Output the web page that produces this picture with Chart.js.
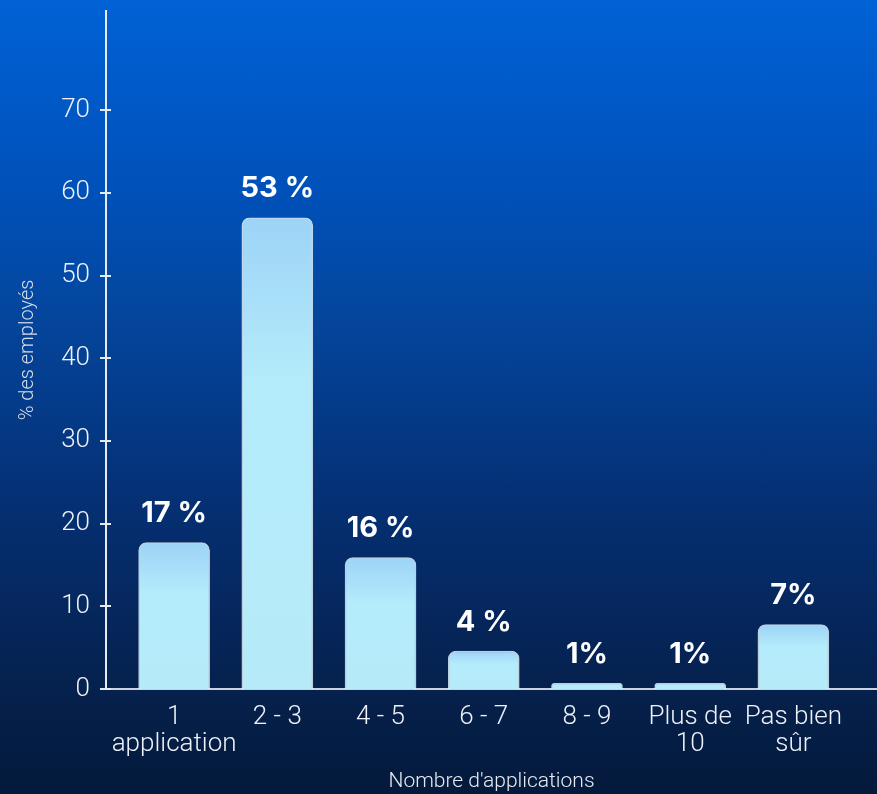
<!DOCTYPE html>
<html lang="fr">
<head>
<meta charset="utf-8">
<title>Nombre d'applications</title>
<script src="https://cdn.jsdelivr.net/npm/chart.js@4/dist/chart.umd.min.js"></script>
<style>
  html, body { margin: 0; padding: 0; }
  body {
    width: 877px; height: 794px; overflow: hidden;
    background: linear-gradient(180deg, #0062d6 0%, #0050b8 25%, #0447a0 38%, #053074 63%, #051f48 90%, #041a3c 100%);
  }
  canvas { display: block; }
</style>
</head>
<body>
<canvas id="chart" width="877" height="794"></canvas>
<script>
const CATEGORIES = [['1', 'application'], ['2 - 3'], ['4 - 5'], ['6 - 7'], ['8 - 9'], ['Plus de', '10'], ['Pas bien', 'sûr']];
const VALUES = [17.7, 57, 15.9, 4.6, 0.7, 0.7, 7.8];
const BAR_LABELS = ['17 %', '53 %', '16 %', '4 %', '1%', '1%', '7%'];
const Y_TICKS_MAX = 70;

const FONT = 'Roboto, Inter, "Open Sans", sans-serif';
const BOLD_FONT = 'Inter, Roboto, sans-serif';

function barFill(context) {
  const chart = context.chart;
  const area = chart.chartArea;
  if (!area) return '#b4ecfa';
  const yScale = chart.scales.y;
  const top = yScale.getPixelForValue(context.raw ? context.raw.y : 0);
  const base = yScale.getPixelForValue(0);
  if (!isFinite(top) || base - top < 1) return '#b4ecfa';
  const g = chart.ctx.createLinearGradient(0, top, 0, base);
  g.addColorStop(0, '#9dd3f6');
  g.addColorStop(0.35, '#b4ecfb');
  g.addColorStop(1, '#b6eaf9');
  return g;
}

// short tick marks crossing the y axis
const yTickMarks = {
  id: 'yTickMarks',
  afterDraw(chart) {
    const y = chart.scales.y;
    const ctx = chart.ctx;
    const x0 = chart.chartArea.left;
    ctx.save();
    ctx.strokeStyle = '#e6ebf3';
    ctx.lineWidth = 2;
    y.ticks.forEach(t => {
      const py = Math.round(y.getPixelForValue(t.value));
      ctx.beginPath();
      ctx.moveTo(x0 - 6, py);
      ctx.lineTo(x0 + 5, py);
      ctx.stroke();
    });
    ctx.restore();
  }
};

// percentage labels above bars
const barValueLabels = {
  id: 'barValueLabels',
  afterDatasetsDraw(chart) {
    const ctx = chart.ctx;
    const meta = chart.getDatasetMeta(0);
    ctx.save();
    ctx.fillStyle = '#ffffff';
    ctx.font = '700 29px ' + BOLD_FONT;
    ctx.textAlign = 'center';
    ctx.textBaseline = 'middle';
    meta.data.forEach((bar, i) => {
      ctx.fillText(BAR_LABELS[i], bar.x, bar.y - 29);
    });
    ctx.restore();
  }
};

new Chart(document.getElementById('chart'), {
  type: 'bar',
  data: {
    datasets: [{
      data: VALUES.map((v, i) => ({ x: i, y: v })),
      backgroundColor: barFill,
      borderColor: 'rgba(235, 250, 255, 0.8)',
      borderWidth: 1.5,
      borderSkipped: 'bottom',
      borderRadius: 8,
      barThickness: 71
    }]
  },
  options: {
    responsive: false,
    animation: false,
    layout: { padding: { top: 11, right: 0, left: 0, bottom: 0 } },
    plugins: {
      legend: { display: false },
      tooltip: { enabled: false }
    },
    scales: {
      x: {
        type: 'linear',
        offset: false,
        min: -0.66,
        max: 6.81,
        afterBuildTicks: axis => { axis.ticks = CATEGORIES.map((_, i) => ({ value: i })); },
        afterFit: axis => { axis.height = 105; axis.paddingLeft = 0; axis.paddingRight = 0; },
        grid: { display: false, drawTicks: false, tickLength: 0 },
        border: { display: true, color: 'rgba(225, 230, 240, 0.9)', width: 2 },
        ticks: {
          autoSkip: false,
          maxRotation: 0,
          padding: 15,
          color: '#eef2f8',
          font: { family: FONT, size: 26, weight: '300', lineHeight: 1.05 },
          callback: v => CATEGORIES[v]
        },
        title: {
          display: true,
          text: "Nombre d'applications",
          color: '#e6ebf3',
          font: { family: FONT, size: 21, weight: '300' },
          padding: { top: 0, bottom: 0 }
        }
      },
      y: {
        min: 0,
        max: 82,
        afterBuildTicks: axis => { axis.ticks = axis.ticks.filter(t => t.value <= Y_TICKS_MAX); },
        afterFit: axis => { axis.width = 106; axis.paddingTop = 0; axis.paddingBottom = 0; },
        grid: { display: false, drawTicks: false, tickLength: 0 },
        border: { display: true, color: '#e6ebf3', width: 2 },
        ticks: {
          stepSize: 10,
          padding: 16,
          color: '#eef2f8',
          font: { family: FONT, size: 26, weight: '300' }
        },
        title: {
          display: true,
          text: '% des employés',
          color: '#d6deeb',
          font: { family: FONT, size: 20, weight: '300' },
          padding: { top: 16, bottom: 0 }
        }
      }
    }
  },
  plugins: [yTickMarks, barValueLabels]
});
</script>
</body>
</html>
